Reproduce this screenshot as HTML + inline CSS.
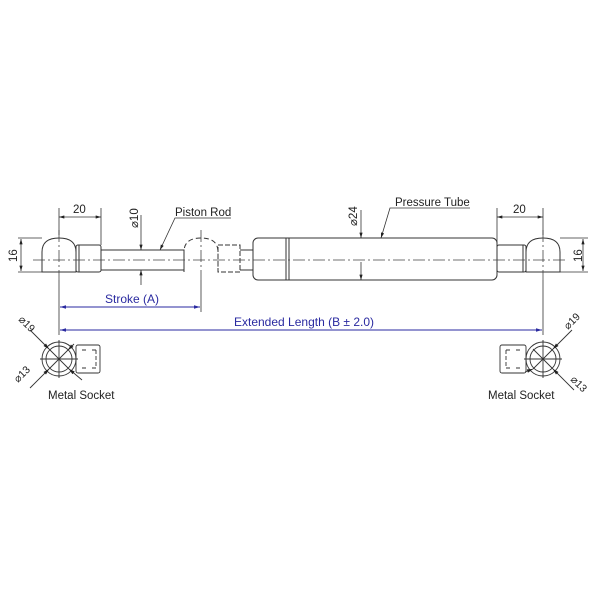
<!DOCTYPE html>
<html><head><style>body{margin:0;background:#fff}svg{display:block}text{font-family:"Liberation Sans",Arial,sans-serif}</style></head>
<body>
<svg width="600" height="600" viewBox="0 0 600 600" xmlns="http://www.w3.org/2000/svg">
<defs>
<marker id="a" viewBox="0 0 10 6" refX="10" refY="3" markerWidth="8" markerHeight="4" orient="auto-start-reverse"><path d="M0,0L10,3L0,6z" fill="#222"/></marker>
<marker id="b" viewBox="0 0 10 6" refX="10" refY="3" markerWidth="8" markerHeight="4" orient="auto-start-reverse"><path d="M0,0L10,3L0,6z" fill="#2a2aa0"/></marker>
</defs>
<g fill="none" stroke="#333" stroke-width="1">
<path d="M42,272 L42,252 Q42,238 59,238 Q76,238 76,252 L76,272 Z"/>
<rect x="76" y="245" width="25" height="27" rx="2"/>
<line x1="79" y1="245" x2="79" y2="272"/>
<rect x="101" y="250" width="83" height="20"/>
<path d="M184,272 L184,252 Q184,238 201,238 Q218,238 218,252 L218,272" stroke-dasharray="5,3"/>
<rect x="218" y="245" width="22" height="27" stroke-dasharray="5,2"/>
<line x1="240" y1="250" x2="253" y2="250"/><line x1="240" y1="270" x2="253" y2="270"/>
<rect x="253" y="238" width="244" height="42" rx="5"/>
<line x1="286" y1="238" x2="286" y2="280"/><line x1="289" y1="238" x2="289" y2="280"/>
<rect x="497" y="245" width="29" height="27" rx="2"/>
<line x1="523" y1="245" x2="523" y2="272"/>
<path d="M526,272 L526,252 Q526,238 543,238 Q560,238 560,252 L560,272 Z"/>
</g>
<g stroke="#444" stroke-width="0.8" stroke-dasharray="12,3,2,3" fill="none">
<line x1="33" y1="260" x2="568" y2="260"/>
<line x1="59" y1="230" x2="59" y2="280"/>
<line x1="201" y1="230" x2="201" y2="280"/>
<line x1="543" y1="230" x2="543" y2="280"/>
</g>
<g stroke="#333" stroke-width="0.8" fill="none">
<line x1="59" y1="208" x2="59" y2="235"/><line x1="101" y1="208" x2="101" y2="245"/>
<line x1="59" y1="280" x2="59" y2="335"/><line x1="201" y1="280" x2="201" y2="312"/>
<line x1="543" y1="280" x2="543" y2="335"/><line x1="497" y1="208" x2="497" y2="245"/><line x1="543" y1="208" x2="543" y2="235"/>
<line x1="18" y1="238" x2="42" y2="238"/><line x1="18" y1="272" x2="42" y2="272"/>
<line x1="560" y1="238" x2="588" y2="238"/><line x1="560" y1="272" x2="588" y2="272"/>
<line x1="59" y1="217" x2="101" y2="217" marker-start="url(#a)" marker-end="url(#a)"/>
<line x1="497" y1="217" x2="543" y2="217" marker-start="url(#a)" marker-end="url(#a)"/>
<line x1="21" y1="239" x2="21" y2="271" marker-start="url(#a)" marker-end="url(#a)"/>
<line x1="583" y1="239" x2="583" y2="271" marker-start="url(#a)" marker-end="url(#a)"/>
<line x1="141" y1="215" x2="141" y2="250" marker-end="url(#a)"/><line x1="141" y1="285" x2="141" y2="270" marker-end="url(#a)"/>
<line x1="361" y1="210" x2="361" y2="238" marker-end="url(#a)"/>
<line x1="361" y1="262" x2="361" y2="280" marker-end="url(#a)"/>
<polyline points="231,218 175,218 160,250" marker-end="url(#a)"/>
<polyline points="470,208 390,208 381,238" marker-end="url(#a)"/>
</g>
<g stroke="#2a2aa0" stroke-width="0.9">
<line x1="60" y1="307" x2="200" y2="307" marker-start="url(#b)" marker-end="url(#b)"/>
<line x1="60" y1="330" x2="542" y2="330" marker-start="url(#b)" marker-end="url(#b)"/>
</g>
<g fill="#2a2aa0" font-size="12">
<text x="105" y="303">Stroke (A)</text>
<text x="234" y="326">Extended Length (B ± 2.0)</text>
</g>
<g fill="#222" font-size="11.5">
<text x="73" y="213">20</text><text x="513" y="213">20</text>
<text x="175" y="216">Piston Rod</text>
<text x="395" y="206">Pressure Tube</text>
<text transform="translate(17,262) rotate(-90)">16</text>
<text transform="translate(582,262) rotate(-90)">16</text>
<text transform="translate(138,228) rotate(-90)">⌀10</text>
<text transform="translate(357,226) rotate(-90)">⌀24</text>
<text x="48" y="399">Metal Socket</text>
<text x="488" y="399">Metal Socket</text>
<text transform="translate(18,320) rotate(45)" font-size="10.5">⌀19</text>
<text transform="translate(18,383) rotate(-45)" font-size="10.5">⌀13</text>
<text transform="translate(568,330) rotate(-45)" font-size="10.5">⌀19</text>
<text transform="translate(570,380) rotate(45)" font-size="10.5">⌀13</text>
</g>
<g fill="none" stroke="#333" stroke-width="0.9">
<circle cx="59" cy="359" r="17"/><circle cx="59" cy="359" r="13"/>
<rect x="76" y="345" width="24" height="28" rx="2"/>
<path d="M82,350h6M92,350h4M82,368h6M92,368h4M96,350v18" stroke-dasharray="4,2"/>
<line x1="40" y1="359" x2="78" y2="359"/><line x1="59" y1="340" x2="59" y2="378"/>
<line x1="49" y1="349" x2="69" y2="369"/><line x1="69" y1="349" x2="49" y2="369"/>
<line x1="30" y1="330" x2="49" y2="349" marker-end="url(#a)"/><line x1="74" y1="344" x2="68" y2="350" marker-end="url(#a)"/>
<line x1="30" y1="388" x2="49" y2="369" marker-end="url(#a)"/><line x1="82" y1="380" x2="69" y2="369" marker-end="url(#a)"/>
<circle cx="543" cy="359" r="17"/><circle cx="543" cy="359" r="13"/>
<rect x="500" y="345" width="26" height="28" rx="2"/>
<path d="M506,350h6M516,350h4M506,368h6M516,368h4M506,350v18" stroke-dasharray="4,2"/>
<line x1="524" y1="359" x2="562" y2="359"/><line x1="543" y1="340" x2="543" y2="378"/>
<line x1="533" y1="349" x2="553" y2="369"/><line x1="553" y1="349" x2="533" y2="369"/>
<line x1="572" y1="330" x2="553" y2="349" marker-end="url(#a)"/><line x1="525" y1="372" x2="533" y2="369" marker-end="url(#a)"/>
<line x1="574" y1="390" x2="553" y2="369" marker-end="url(#a)"/>
</g>
</svg>
</body></html>
